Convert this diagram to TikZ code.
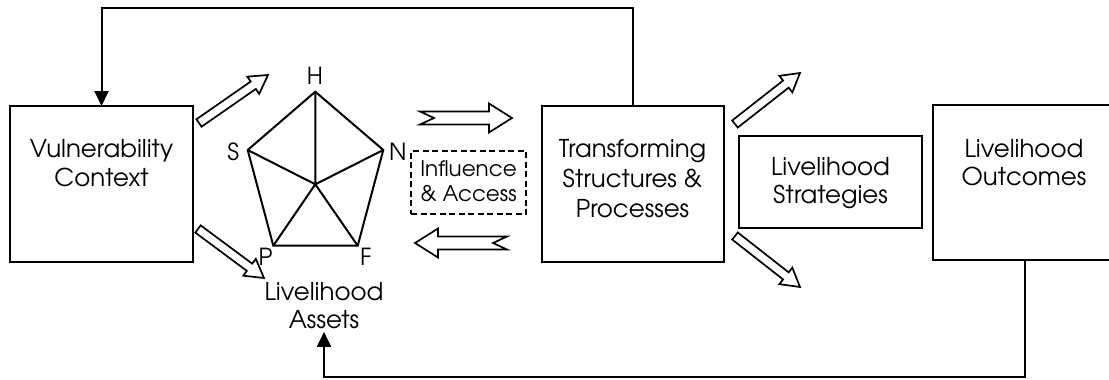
\documentclass[tikz,border=0pt]{standalone}
\usepackage{fontspec}
\setmainfont{texgyreadventor}[Extension=.otf, UprightFont=*-regular, BoldFont=*-bold]
\usetikzlibrary{calc,arrows.meta}

\tikzset{
  box/.style={draw, line width=2pt, inner sep=0pt, outer sep=0pt},
  dashbox/.style={draw, line width=1.6pt, dash pattern=on 6pt off 3.5pt, inner sep=0pt, outer sep=0pt},
  txt/.style={align=center, inner sep=0pt, anchor=north, font=\fontsize{24.5}{29}\selectfont},
  small/.style={align=center, inner sep=0pt, anchor=north, font=\fontsize{21.5}{25}\selectfont},
  corner/.style={inner sep=0pt, font=\fontsize{23.5}{25}\selectfont},
  feedback/.style={line width=2pt, -{Triangle[length=15pt,width=14pt]}},
  hollow/.style={draw, line width=1.7pt, fill=white, line join=miter},
  web/.style={line width=2pt, line join=miter},
}

% fat outline arrow: tail, tip, shaft half-width, head half-width, head length, tail notch
\newcommand\fatarrow[6]{%
  \coordinate (neck) at ($(#2)!#5!(#1)$);
  \coordinate (nib) at ($(#1)!#6!(#2)$);
  \draw[hollow] ($(#1)!#3!90:(#2)$) -- ($(neck)!#3!-90:(#1)$) -- ($(neck)!#4!-90:(#1)$)
    -- (#2) -- ($(neck)!#4!90:(#1)$) -- ($(neck)!#3!90:(#1)$) -- ($(#1)!#3!-90:(#2)$)
    -- (nib) -- cycle;
}

\begin{document}
\begin{tikzpicture}[x=1pt, y=-1pt]
\useasboundingbox (0,0) rectangle (1109,380);
\clip (0,0) rectangle (1109,380);
\fill[white] (0,0) rectangle (1109,380);

% main boxes
\node[box, minimum width=183pt, minimum height=156pt] (vc) at (101.5,184) {};
\node[txt] (vct) at (101.5,139) {Vulnerability\\Context};

\node[box, minimum width=182pt, minimum height=156pt] (ts) at (633,184) {};
\node[txt, font=\fontsize{24.5}{30}\selectfont] (tst) at (632.5,139) {Transforming\\Structures \&\\Processes};

\node[box, minimum width=183pt, minimum height=92pt] (ls) at (830.5,182) {};
\node[txt, font=\fontsize{24.5}{28.5}\selectfont] (lst) at (830.5,157) {Livelihood\\Strategies};

\node[box, minimum width=192pt, minimum height=155pt] (lo) at (1029,182.5) {};
\node[txt, font=\fontsize{24.5}{28.5}\selectfont] (lot) at (1024,139) {Livelihood\\Outcomes};

\node[dashbox, minimum width=115pt, minimum height=63pt] (ia) at (468.5,182.5) {};
\node[small] (iat) at (468.5,160) {Influence\\\& Access};

% asset pentagon
\coordinate (H) at (315.3,91.7);
\coordinate (S) at (247.7,150);
\coordinate (N) at (383.3,150);
\coordinate (F) at (357.7,245.7);
\coordinate (P) at (273.3,245.7);
\coordinate (C) at (315.3,184.3);
\draw[web] (H) -- (N) -- (F) -- (P) -- (S) -- cycle;
\draw[web] (C) -- (H) (C) -- (N) (C) -- (F) (C) -- (P) (C) -- (S);
\node[corner] (lH) at (315,76) {H};
\node[corner] (lS) at (233.3,151.7) {S};
\node[corner] (lN) at (397.7,151.7) {N};
\node[corner] (lP) at (265.7,257.3) {P};
\node[corner] (lF) at (365.7,257.3) {F};
\node[txt, font=\fontsize{24.5}{28}\selectfont] (la) at (324,282) {Livelihood\\Assets};

% outline arrows
\coordinate (a1t) at (199,123);  \coordinate (a1h) at (268,75);
\coordinate (a2t) at (198,229);  \coordinate (a2h) at (264,278);
\coordinate (a3t) at (735,124);  \coordinate (a3h) at (800,73);
\coordinate (a4t) at (735,236);  \coordinate (a4h) at (800,287);
\coordinate (a5t) at (420,118);  \coordinate (a5h) at (512,118);
\coordinate (a6t) at (507,243);  \coordinate (a6h) at (415,243);
\fatarrow{a1t}{a1h}{4.5pt}{10.5pt}{18pt}{0pt}
\fatarrow{a2t}{a2h}{4.5pt}{10.5pt}{18pt}{0pt}
\fatarrow{a3t}{a3h}{4.5pt}{10.5pt}{18pt}{0pt}
\fatarrow{a4t}{a4h}{4.5pt}{10.5pt}{18pt}{0pt}
\fatarrow{a5t}{a5h}{6.5pt}{14.5pt}{23pt}{14pt}
\fatarrow{a6t}{a6h}{6.5pt}{14.5pt}{23pt}{14pt}

% feedback loops
\coordinate (topline) at (0,8);
\draw[feedback] (ts.north) -- (ts.north |- topline) -| (vc.north);
\coordinate (botline) at (1025,377);
\draw[feedback, shorten >=3pt] (lo.south -| botline) -- (botline) -| (la.south);
\end{tikzpicture}
\end{document}
